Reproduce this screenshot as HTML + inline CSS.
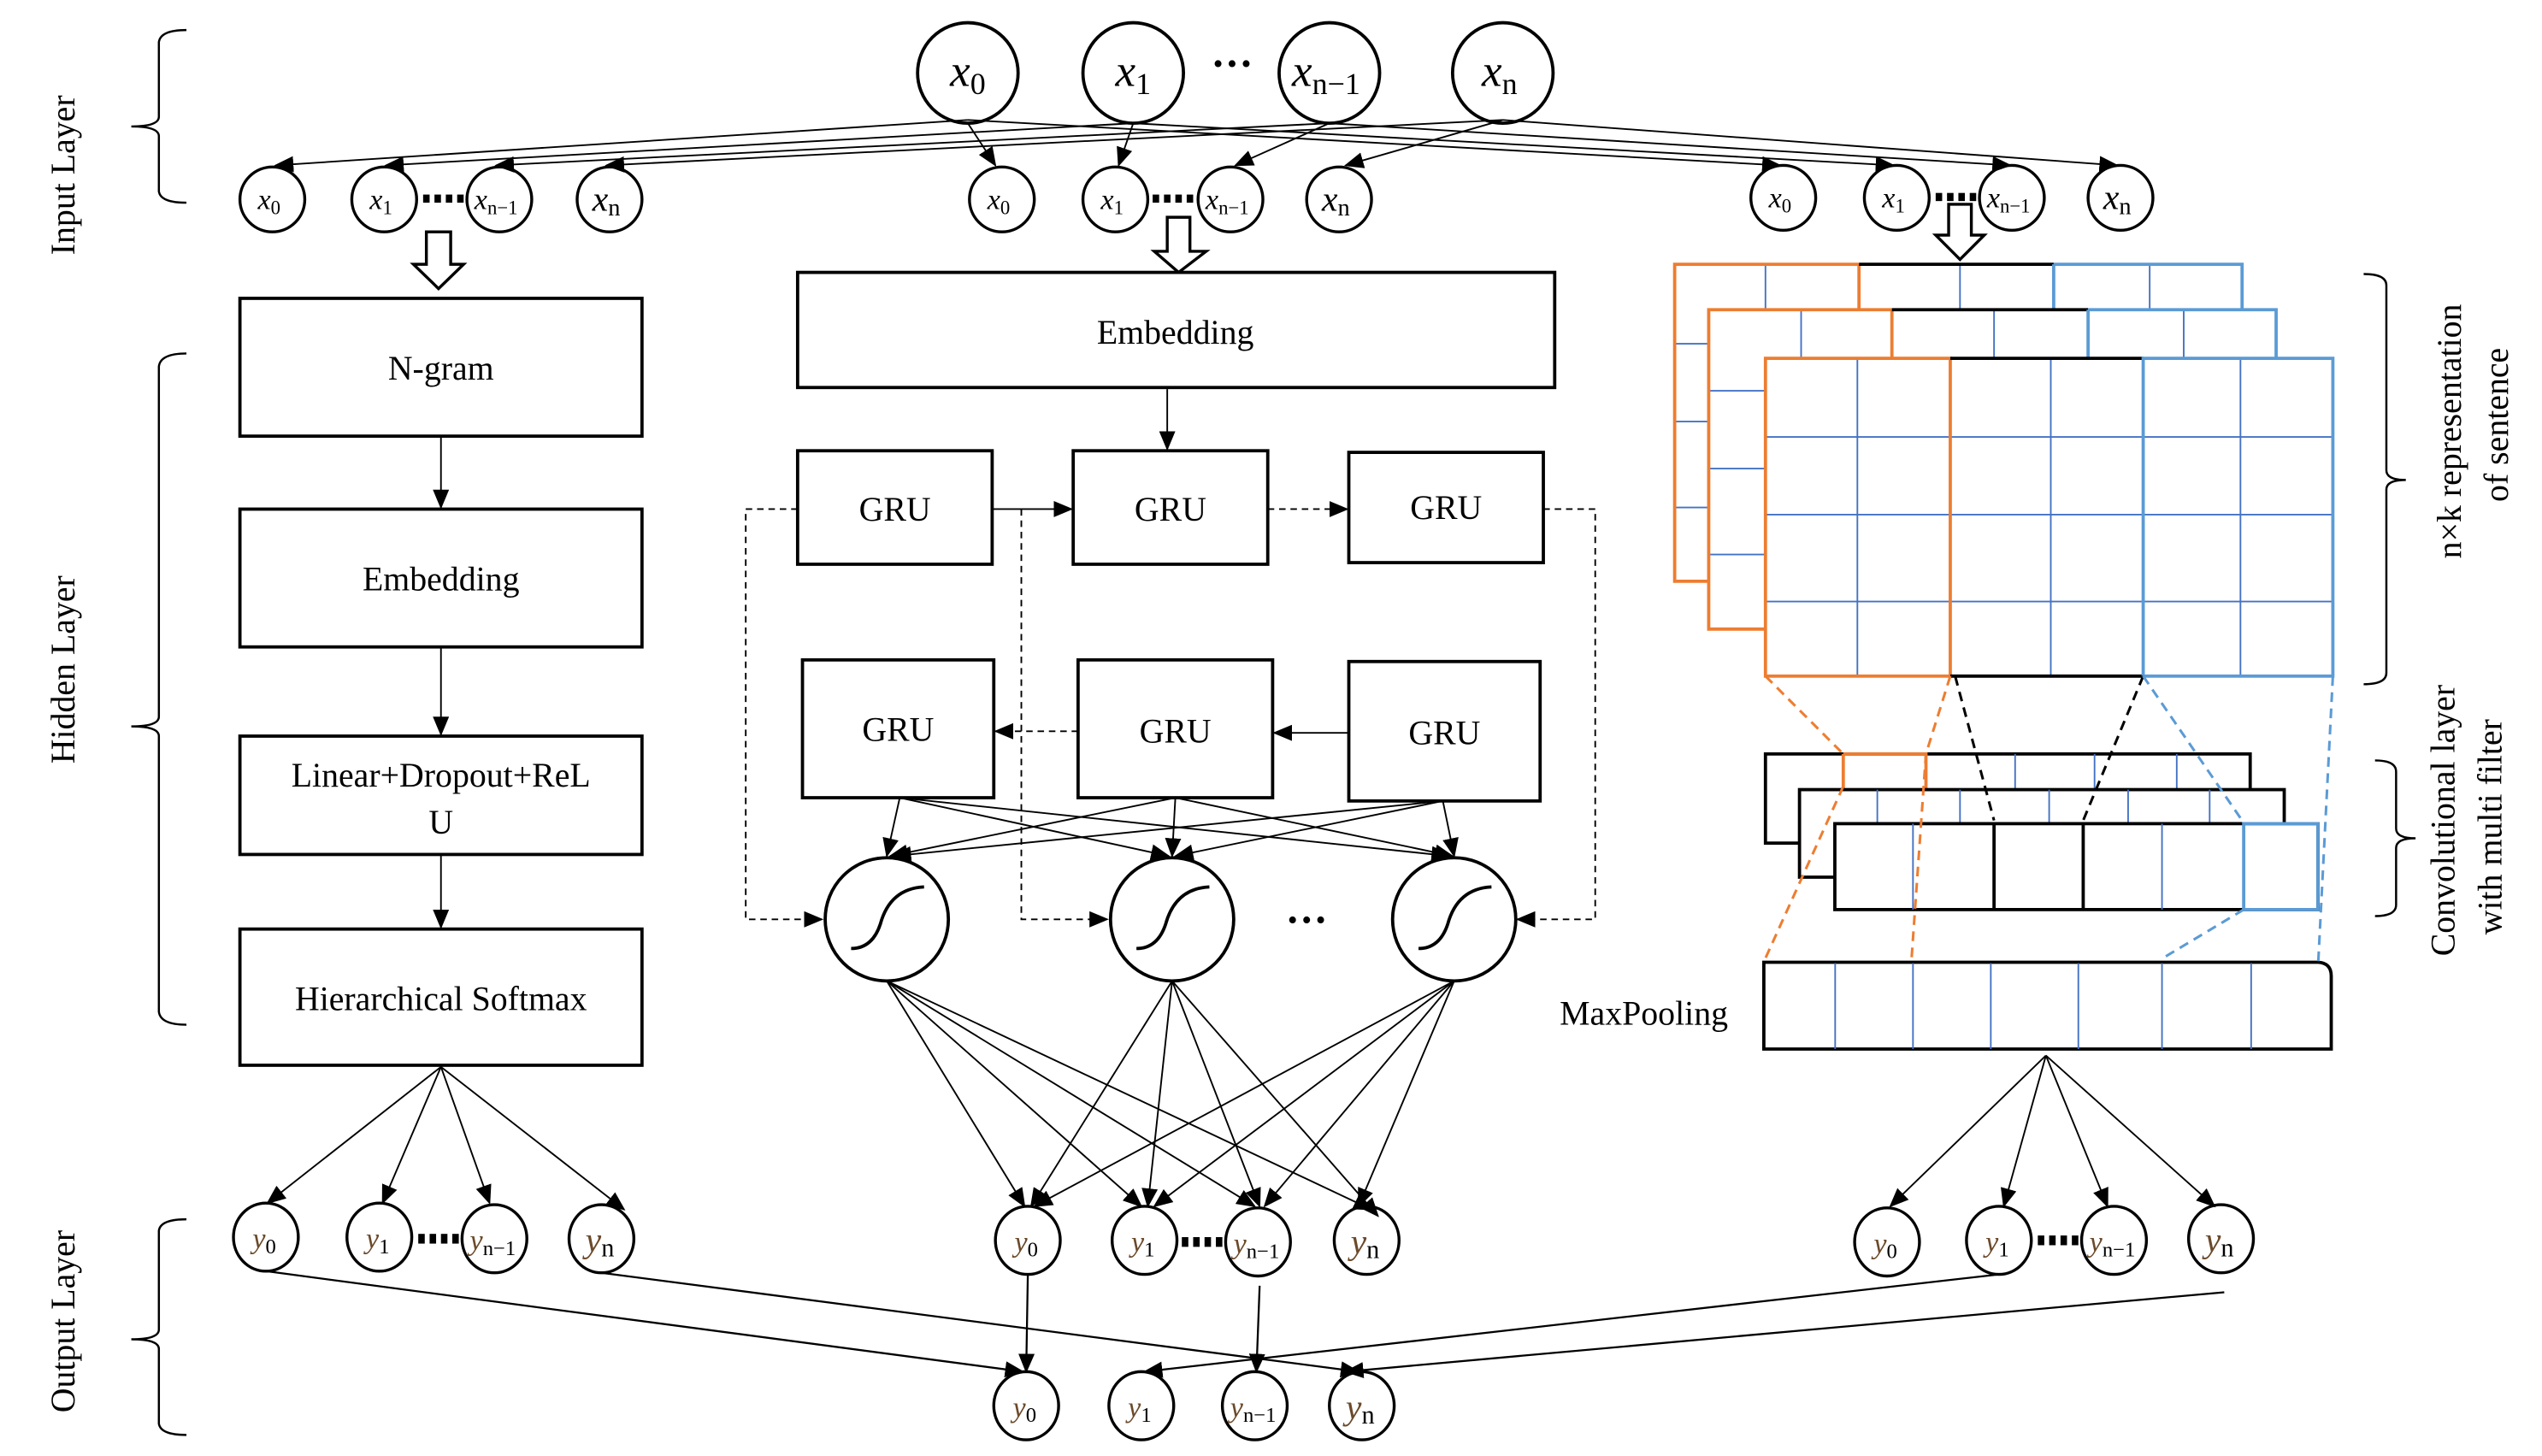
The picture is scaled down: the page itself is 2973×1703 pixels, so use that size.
<!DOCTYPE html>
<html><head><meta charset="utf-8"><style>
html,body{margin:0;padding:0;background:#fff;}
svg{display:block;}
text{font-family:"Liberation Serif",serif;fill:#000;}
</style></head><body>
<svg width="2973" height="1703" viewBox="0 0 1568 898" preserveAspectRatio="none" xmlns="http://www.w3.org/2000/svg">
<defs>
<marker id="a" markerUnits="userSpaceOnUse" markerWidth="12" markerHeight="10" refX="11" refY="5" orient="auto"><path d="M0,0 L12,5 L0,10 z" fill="#000"/></marker>
</defs>
<rect width="1568" height="898" fill="#fff"/>

<!-- braces -->
<g fill="none" stroke="#000" stroke-width="1.3">
<path d="M115,18.5 Q99,18.5 98,26 L98,72 Q98,78 81,78 Q98,78 98,84 L98,118 Q99,125 115,125"/>
<path d="M115,218 Q99,218 98,226 L98,442 Q98,448 81,448 Q98,448 98,454 L98,624 Q99,632 115,632"/>
<path d="M115,752 Q99,752 98,759 L98,820 Q98,826 81,826 Q98,826 98,832 L98,878 Q99,885 115,885"/>
<path d="M1458,169 Q1472,169 1472,176 L1472,290 Q1472,296 1484,296 Q1472,296 1472,302 L1472,415 Q1472,422 1458,422"/>
<path d="M1465,469 Q1478,469 1478,476 L1478,511 Q1478,517 1490,517 Q1478,517 1478,523 L1478,558 Q1478,565 1465,565"/>
</g>
<g font-size="21">
<text transform="translate(46,108) rotate(-90)" text-anchor="middle">Input Layer</text>
<text transform="translate(46,413) rotate(-90)" text-anchor="middle">Hidden Layer</text>
<text transform="translate(46,815) rotate(-90)" text-anchor="middle">Output Layer</text>
<text transform="translate(1518,266) rotate(-90)" text-anchor="middle">n×k representation</text>
<text transform="translate(1547,262) rotate(-90)" text-anchor="middle">of sentence</text>
<text transform="translate(1514,506) rotate(-90)" text-anchor="middle">Convolutional layer</text>
<text transform="translate(1543,510) rotate(-90)" text-anchor="middle">with multi filter</text>
</g>

<!-- top input circles -->
<g fill="none" stroke="#000" stroke-width="2">
<circle cx="597" cy="45" r="31"/><circle cx="699" cy="45" r="31"/><circle cx="820" cy="45" r="31"/><circle cx="927" cy="45" r="31"/>
</g>
<g font-size="28">
<text x="597" y="53" text-anchor="middle"><tspan font-style="italic">x</tspan><tspan font-size="19" dy="5">0</tspan></text>
<text x="699" y="53" text-anchor="middle"><tspan font-style="italic">x</tspan><tspan font-size="19" dy="5">1</tspan></text>
<text x="818" y="53" text-anchor="middle"><tspan font-style="italic">x</tspan><tspan font-size="19" dy="5">n−1</tspan></text>
<text x="925" y="53" text-anchor="middle"><tspan font-style="italic">x</tspan><tspan font-size="19" dy="5">n</tspan></text>
<text x="760" y="48" text-anchor="middle" font-weight="bold" font-size="26">···</text>
</g>

<!-- lines top to small -->
<g stroke="#000" stroke-width="1" marker-end="url(#a)">
<line x1="597" y1="74" x2="170" y2="102"/><line x1="597" y1="76" x2="614" y2="102"/><line x1="597" y1="74" x2="1098" y2="102"/>
<line x1="699" y1="76" x2="238" y2="102"/><line x1="699" y1="76" x2="690" y2="102"/><line x1="699" y1="76" x2="1168" y2="102"/>
<line x1="820" y1="76" x2="306" y2="102"/><line x1="820" y1="76" x2="762" y2="102"/><line x1="820" y1="76" x2="1240" y2="102"/>
<line x1="927" y1="74" x2="374" y2="102"/><line x1="927" y1="74" x2="830" y2="102"/><line x1="927" y1="74" x2="1306" y2="102"/>
</g>

<!-- small input circles -->
<g fill="none" stroke="#000" stroke-width="1.8">
<circle cx="168" cy="123" r="20"/><circle cx="237" cy="123" r="20"/><circle cx="308" cy="123" r="20"/><circle cx="376" cy="123" r="20"/>
<circle cx="618" cy="123" r="20"/><circle cx="688" cy="123" r="20"/><circle cx="759" cy="123" r="20"/><circle cx="826" cy="123" r="20"/>
<circle cx="1100" cy="122" r="20"/><circle cx="1170" cy="122" r="20"/><circle cx="1241" cy="122" r="20"/><circle cx="1308" cy="122" r="20"/>
</g>
<g font-size="18">
<text x="166" y="129" text-anchor="middle"><tspan font-style="italic">x</tspan><tspan font-size="12" dy="3">0</tspan></text>
<text x="235" y="129" text-anchor="middle"><tspan font-style="italic">x</tspan><tspan font-size="12" dy="3">1</tspan></text>
<text x="306" y="129" text-anchor="middle"><tspan font-style="italic">x</tspan><tspan font-size="12" dy="3">n−1</tspan></text>
<text x="374" y="130" text-anchor="middle" font-size="22"><tspan font-style="italic">x</tspan><tspan font-size="15" dy="3">n</tspan></text>
<text x="616" y="129" text-anchor="middle"><tspan font-style="italic">x</tspan><tspan font-size="12" dy="3">0</tspan></text>
<text x="686" y="129" text-anchor="middle"><tspan font-style="italic">x</tspan><tspan font-size="12" dy="3">1</tspan></text>
<text x="757" y="129" text-anchor="middle"><tspan font-style="italic">x</tspan><tspan font-size="12" dy="3">n−1</tspan></text>
<text x="824" y="130" text-anchor="middle" font-size="22"><tspan font-style="italic">x</tspan><tspan font-size="15" dy="3">n</tspan></text>
<text x="1098" y="128" text-anchor="middle"><tspan font-style="italic">x</tspan><tspan font-size="12" dy="3">0</tspan></text>
<text x="1168" y="128" text-anchor="middle"><tspan font-style="italic">x</tspan><tspan font-size="12" dy="3">1</tspan></text>
<text x="1239" y="128" text-anchor="middle"><tspan font-style="italic">x</tspan><tspan font-size="12" dy="3">n−1</tspan></text>
<text x="1306" y="129" text-anchor="middle" font-size="22"><tspan font-style="italic">x</tspan><tspan font-size="15" dy="3">n</tspan></text>
</g>
<g fill="#000"><rect x="261" y="120" width="4" height="5"/><rect x="268" y="120" width="4" height="5"/><rect x="275" y="120" width="4" height="5"/><rect x="282" y="120" width="4" height="5"/>
<rect x="711" y="120" width="4" height="5"/><rect x="718" y="120" width="4" height="5"/><rect x="725" y="120" width="4" height="5"/><rect x="732" y="120" width="4" height="5"/>
<rect x="1194" y="119" width="4" height="5"/><rect x="1201" y="119" width="4" height="5"/><rect x="1208" y="119" width="4" height="5"/><rect x="1215" y="119" width="4" height="5"/></g>

<!-- hollow arrows -->
<g fill="#fff" stroke="#000" stroke-width="1.8">
<path d="M263,143 L278,143 L278,163 L286,163 L270.5,178 L255,163 L263,163 z"/>
<path d="M720,134 L734,134 L734,155 L744,155 L727,168 L712,155 L720,155 z"/>
<path d="M1202,126 L1216,126 L1216,145 L1224,145 L1209,160 L1194,145 L1202,145 z"/>
</g>

<!-- left column -->
<g fill="#fff" stroke="#000" stroke-width="2">
<rect x="148" y="184" width="248" height="85"/><rect x="148" y="314" width="248" height="85"/>
<rect x="148" y="454" width="248" height="73"/><rect x="148" y="573" width="248" height="84"/>
</g>
<g font-size="21" text-anchor="middle">
<text x="272" y="234">N-gram</text><text x="272" y="364">Embedding</text>
<text x="272" y="485">Linear+Dropout+ReL</text><text x="272" y="514">U</text>
<text x="272" y="623">Hierarchical  Softmax</text>
</g>
<g stroke="#000" stroke-width="1" marker-end="url(#a)">
<line x1="272" y1="269" x2="272" y2="313"/><line x1="272" y1="399" x2="272" y2="453"/><line x1="272" y1="527" x2="272" y2="572"/>
<line x1="272" y1="658" x2="165" y2="742"/><line x1="272" y1="658" x2="236" y2="742"/><line x1="272" y1="658" x2="302" y2="742"/><line x1="272" y1="658" x2="385" y2="746"/>
</g>

<!-- middle column -->
<g fill="#fff" stroke="#000" stroke-width="2">
<rect x="492" y="168" width="467" height="71"/>
<rect x="492" y="278" width="120" height="70"/><rect x="662" y="278" width="120" height="70"/><rect x="832" y="279" width="120" height="68"/>
<rect x="495" y="407" width="118" height="85"/><rect x="665" y="407" width="120" height="85"/><rect x="832" y="408" width="118" height="86"/>
</g>
<g font-size="21" text-anchor="middle">
<text x="725" y="212">Embedding</text>
<text x="552" y="321">GRU</text><text x="722" y="321">GRU</text><text x="892" y="320">GRU</text>
<text x="554" y="457">GRU</text><text x="725" y="458">GRU</text><text x="891" y="459">GRU</text>
</g>
<g stroke="#000" stroke-width="1" fill="none">
<line x1="720" y1="240" x2="720" y2="277" marker-end="url(#a)"/>
<line x1="612" y1="314" x2="661" y2="314" marker-end="url(#a)"/>
<line x1="782" y1="314" x2="831" y2="314" stroke-dasharray="4,3" marker-end="url(#a)"/>
<line x1="832" y1="452" x2="786" y2="452" marker-end="url(#a)"/>
<line x1="665" y1="451" x2="614" y2="451" stroke-dasharray="4,3" marker-end="url(#a)"/>
<path d="M492,314 L460,314 L460,567 L507,567" stroke-dasharray="4,3" marker-end="url(#a)"/>
<path d="M630,314 L630,567 L683,567" stroke-dasharray="4,3" marker-end="url(#a)"/>
<path d="M952,314 L984,314 L984,567 L936,567" stroke-dasharray="4,3" marker-end="url(#a)"/>
</g>
<g stroke="#000" stroke-width="1" marker-end="url(#a)">
<line x1="555" y1="492" x2="547" y2="528"/><line x1="555" y1="492" x2="721" y2="528"/><line x1="555" y1="492" x2="894" y2="528"/>
<line x1="725" y1="492" x2="549" y2="528"/><line x1="725" y1="492" x2="723" y2="528"/><line x1="725" y1="492" x2="896" y2="528"/>
<line x1="890" y1="494" x2="551" y2="528"/><line x1="890" y1="494" x2="725" y2="528"/><line x1="890" y1="494" x2="897" y2="528"/>
</g>
<g fill="#fff" stroke="#000" stroke-width="2">
<circle cx="547" cy="567" r="38"/><circle cx="723" cy="567" r="38"/><circle cx="897" cy="567" r="38"/>
</g>
<g fill="none" stroke="#000" stroke-width="2">
<path d="M525,585 Q538,585 543,570 Q549,548 570,547"/>
<path d="M701,585 Q714,585 719,570 Q725,548 746,547"/>
<path d="M875,585 Q888,585 893,570 Q899,548 920,547"/>
</g>
<text x="806" y="576" text-anchor="middle" font-size="26" font-weight="bold">···</text>
<g stroke="#000" stroke-width="1" marker-end="url(#a)">
<line x1="547" y1="605" x2="632" y2="744"/><line x1="547" y1="605" x2="704" y2="744"/><line x1="547" y1="605" x2="774" y2="744"/><line x1="547" y1="605" x2="846" y2="746"/>
<line x1="723" y1="605" x2="636" y2="744"/><line x1="723" y1="605" x2="708" y2="744"/><line x1="723" y1="605" x2="777" y2="744"/><line x1="723" y1="605" x2="850" y2="750"/>
<line x1="897" y1="605" x2="638" y2="744"/><line x1="897" y1="605" x2="712" y2="744"/><line x1="897" y1="605" x2="780" y2="744"/><line x1="897" y1="605" x2="838" y2="744"/>
</g>

<!-- right column grids -->
<g fill="#fff">
<rect x="1033" y="163" width="350" height="195"/>
</g>
<g stroke="#4472c4" stroke-width="1">
<line x1="1089" y1="163" x2="1089" y2="191"/><line x1="1209" y1="163" x2="1209" y2="191"/><line x1="1326" y1="163" x2="1326" y2="191"/>
<line x1="1033" y1="212" x2="1054" y2="212"/><line x1="1033" y1="260" x2="1054" y2="260"/><line x1="1033" y1="313" x2="1054" y2="313"/>
</g>
<g fill="none" stroke-width="2">
<path d="M1146.7,163 L1033,163 L1033,358.5 L1054,358.5" stroke="#ed7d31"/>
<line x1="1146.7" y1="163" x2="1146.7" y2="191" stroke="#ed7d31"/>
<line x1="1146.7" y1="163" x2="1266.8" y2="163" stroke="#000"/>
<path d="M1266.8,163 L1383,163 L1383,191" stroke="#5b9bd5"/>
<line x1="1266.8" y1="163" x2="1266.8" y2="191" stroke="#5b9bd5"/>
</g>
<rect x="1054" y="191" width="350" height="197" fill="#fff"/>
<g stroke="#4472c4" stroke-width="1">
<line x1="1111" y1="191" x2="1111" y2="221"/><line x1="1230" y1="191" x2="1230" y2="221"/><line x1="1347" y1="191" x2="1347" y2="221"/>
<line x1="1054" y1="241" x2="1089" y2="241"/><line x1="1054" y1="289" x2="1089" y2="289"/><line x1="1054" y1="342" x2="1089" y2="342"/>
</g>
<g fill="none" stroke-width="2">
<path d="M1167,191 L1054,191 L1054,388 L1089,388" stroke="#ed7d31"/>
<line x1="1167" y1="191" x2="1167" y2="221" stroke="#ed7d31"/>
<line x1="1167" y1="191" x2="1288" y2="191" stroke="#000"/>
<path d="M1288,191 L1404,191 L1404,221" stroke="#5b9bd5"/>
<line x1="1288" y1="191" x2="1288" y2="221" stroke="#5b9bd5"/>
</g>
<rect x="1089" y="221" width="350" height="196" fill="#fff"/>
<g stroke="#4472c4" stroke-width="1">
<line x1="1145.7" y1="221" x2="1145.7" y2="417"/><line x1="1265" y1="221" x2="1265" y2="417"/><line x1="1382" y1="221" x2="1382" y2="417"/>
<line x1="1089" y1="269.5" x2="1439" y2="269.5"/><line x1="1089" y1="317.4" x2="1439" y2="317.4"/><line x1="1089" y1="371" x2="1439" y2="371"/>
</g>
<g fill="none" stroke-width="2">
<rect x="1089" y="221" width="114" height="196" stroke="#ed7d31"/>
<path d="M1203,221 L1322,221 M1203,417 L1322,417" stroke="#000"/>
<rect x="1322" y="221" width="117" height="196" stroke="#5b9bd5"/>
</g>

<!-- conv layers -->
<rect x="1089" y="465" width="299" height="55" fill="#fff" stroke="#000" stroke-width="2"/>
<g stroke="#4472c4" stroke-width="1"><line x1="1243" y1="465" x2="1243" y2="487"/><line x1="1292" y1="465" x2="1292" y2="487"/><line x1="1342.7" y1="465" x2="1342.7" y2="487"/></g>
<path d="M1137,465 L1188,465 L1188,487 M1137,465 L1137,487" fill="none" stroke="#ed7d31" stroke-width="2"/>
<rect x="1110" y="487" width="299" height="54" fill="#fff" stroke="#000" stroke-width="2"/>
<g stroke="#4472c4" stroke-width="1"><line x1="1158" y1="487" x2="1158" y2="508"/><line x1="1209" y1="487" x2="1209" y2="508"/><line x1="1264" y1="487" x2="1264" y2="508"/><line x1="1312.7" y1="487" x2="1312.7" y2="508"/><line x1="1363" y1="487" x2="1363" y2="508"/></g>
<rect x="1131.8" y="508" width="298" height="53" fill="#fff" stroke="#000" stroke-width="2"/>
<g stroke="#4472c4" stroke-width="1"><line x1="1180" y1="508" x2="1180" y2="561"/><line x1="1333.6" y1="508" x2="1333.6" y2="561"/></g>
<g stroke="#000" stroke-width="2"><line x1="1230" y1="508" x2="1230" y2="561"/><line x1="1285" y1="508" x2="1285" y2="561"/></g>
<rect x="1384" y="508" width="45.8" height="53" fill="none" stroke="#5b9bd5" stroke-width="2"/>

<!-- maxpool -->
<path d="M1088,593.5 L1430,593.5 Q1438,594 1438,602 L1438,647 L1088,647 z" fill="#fff" stroke="#000" stroke-width="2"/>
<g stroke="#4472c4" stroke-width="1"><line x1="1132" y1="594" x2="1132" y2="647"/><line x1="1180" y1="594" x2="1180" y2="647"/><line x1="1228" y1="594" x2="1228" y2="647"/><line x1="1282" y1="594" x2="1282" y2="647"/><line x1="1333.6" y1="594" x2="1333.6" y2="647"/><line x1="1388.6" y1="594" x2="1388.6" y2="647"/></g>
<text x="1014" y="632" text-anchor="middle" font-size="21">MaxPooling</text>

<!-- dashed projections -->
<g fill="none" stroke-width="1.6" stroke-dasharray="6,4">
<path d="M1089,417 L1137,465 M1203,417 L1188,465 L1179,593 M1137,485 L1089,591" stroke="#ed7d31"/>
<path d="M1206,417 L1230,506 M1322,417 L1285,506" stroke="#000"/>
<path d="M1322,417 L1383,506 M1439,417 L1430,593 M1384,561 L1334,591" stroke="#5b9bd5"/>
</g>

<!-- right outputs -->
<g stroke="#000" stroke-width="1" marker-end="url(#a)">
<line x1="1262" y1="651" x2="1166" y2="744"/><line x1="1262" y1="651" x2="1236" y2="744"/><line x1="1262" y1="651" x2="1300" y2="744"/><line x1="1262" y1="651" x2="1366" y2="744"/>
</g>

<!-- output circles -->
<g fill="none" stroke="#000" stroke-width="1.8">
<ellipse cx="164" cy="763" rx="20" ry="21"/><ellipse cx="234" cy="763" rx="20" ry="21"/><ellipse cx="305" cy="764" rx="20" ry="21"/><ellipse cx="371" cy="764" rx="20" ry="21"/>
<ellipse cx="634" cy="765" rx="20" ry="21"/><ellipse cx="706" cy="765" rx="20" ry="21"/><ellipse cx="776" cy="766" rx="20" ry="21"/><ellipse cx="843" cy="765" rx="20" ry="21"/>
<ellipse cx="1164" cy="766" rx="20" ry="21"/><ellipse cx="1233" cy="765" rx="20" ry="21"/><ellipse cx="1304" cy="765" rx="20" ry="21"/><ellipse cx="1370" cy="764" rx="20" ry="21"/>
<ellipse cx="633" cy="867" rx="20" ry="21"/><ellipse cx="704" cy="867" rx="20" ry="21"/><ellipse cx="774" cy="867" rx="20" ry="21"/><ellipse cx="840" cy="867" rx="20" ry="21"/>
</g>
<g font-size="18" text-anchor="middle" fill="#000">
<text x="163" y="770"><tspan font-style="italic" fill="#6b4a2a">y</tspan><tspan font-size="13" dy="3">0</tspan></text>
<text x="233" y="770"><tspan font-style="italic" fill="#6b4a2a">y</tspan><tspan font-size="13" dy="3">1</tspan></text>
<text x="304" y="771"><tspan font-style="italic" fill="#6b4a2a">y</tspan><tspan font-size="13" dy="3">n−1</tspan></text>
<text x="370" y="772" font-size="22"><tspan font-style="italic" fill="#6b4a2a">y</tspan><tspan font-size="16" dy="3">n</tspan></text>
<text x="633" y="772"><tspan font-style="italic" fill="#6b4a2a">y</tspan><tspan font-size="13" dy="3">0</tspan></text>
<text x="705" y="772"><tspan font-style="italic" fill="#6b4a2a">y</tspan><tspan font-size="13" dy="3">1</tspan></text>
<text x="775" y="773"><tspan font-style="italic" fill="#6b4a2a">y</tspan><tspan font-size="13" dy="3">n−1</tspan></text>
<text x="842" y="773" font-size="22"><tspan font-style="italic" fill="#6b4a2a">y</tspan><tspan font-size="16" dy="3">n</tspan></text>
<text x="1163" y="773"><tspan font-style="italic" fill="#6b4a2a">y</tspan><tspan font-size="13" dy="3">0</tspan></text>
<text x="1232" y="772"><tspan font-style="italic" fill="#6b4a2a">y</tspan><tspan font-size="13" dy="3">1</tspan></text>
<text x="1303" y="772"><tspan font-style="italic" fill="#6b4a2a">y</tspan><tspan font-size="13" dy="3">n−1</tspan></text>
<text x="1369" y="772" font-size="22"><tspan font-style="italic" fill="#6b4a2a">y</tspan><tspan font-size="16" dy="3">n</tspan></text>
<text x="632" y="874"><tspan font-style="italic" fill="#6b4a2a">y</tspan><tspan font-size="13" dy="3">0</tspan></text>
<text x="703" y="874"><tspan font-style="italic" fill="#6b4a2a">y</tspan><tspan font-size="13" dy="3">1</tspan></text>
<text x="773" y="874"><tspan font-style="italic" fill="#6b4a2a">y</tspan><tspan font-size="13" dy="3">n−1</tspan></text>
<text x="839" y="875" font-size="22"><tspan font-style="italic" fill="#6b4a2a">y</tspan><tspan font-size="16" dy="3">n</tspan></text>
</g>
<g fill="#000">
<rect x="258" y="761" width="4" height="6"/><rect x="265" y="761" width="4" height="6"/><rect x="272" y="761" width="4" height="6"/><rect x="279" y="761" width="4" height="6"/>
<rect x="729" y="763" width="4" height="6"/><rect x="736" y="763" width="4" height="6"/><rect x="743" y="763" width="4" height="6"/><rect x="750" y="763" width="4" height="6"/>
<rect x="1257" y="762" width="4" height="6"/><rect x="1264" y="762" width="4" height="6"/><rect x="1271" y="762" width="4" height="6"/><rect x="1278" y="762" width="4" height="6"/>
</g>

<!-- final connections -->
<g stroke="#000" stroke-width="1.2" marker-end="url(#a)">
<line x1="164" y1="784" x2="631" y2="846"/>
<line x1="371" y1="785" x2="838" y2="846"/>
<line x1="634" y1="786" x2="633" y2="846"/>
<line x1="777" y1="793" x2="775" y2="846"/>
<line x1="1233" y1="786" x2="706" y2="846"/>
<line x1="1372" y1="797" x2="830" y2="846"/>
</g>
</svg>
</body></html>
